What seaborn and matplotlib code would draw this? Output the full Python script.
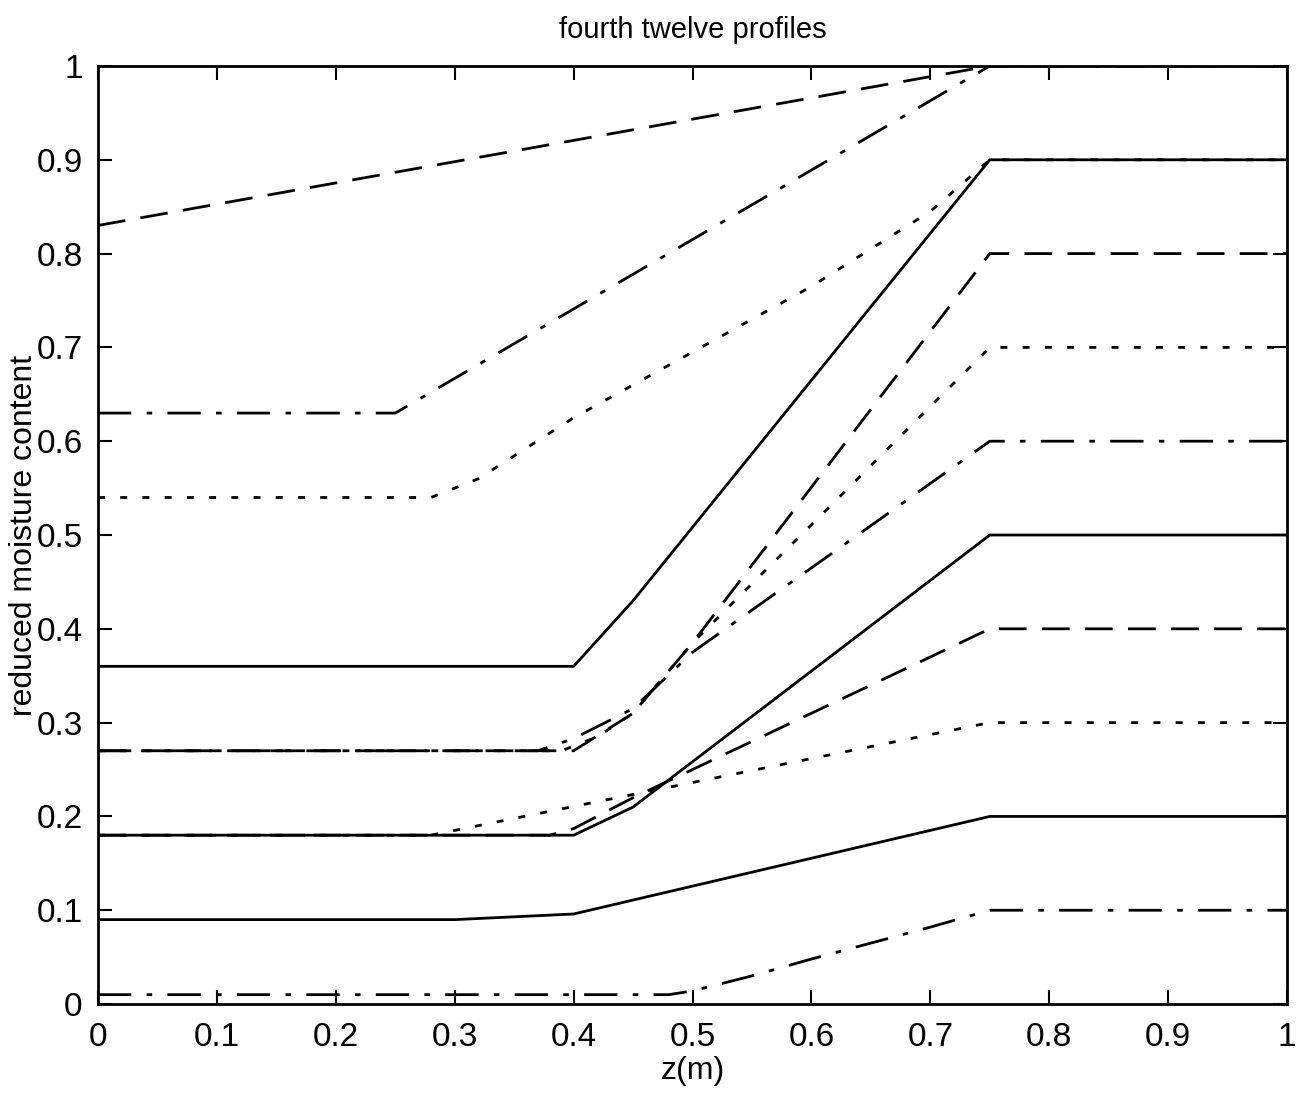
import matplotlib
matplotlib.use("Agg")
import matplotlib.pyplot as plt
import seaborn as sns
import numpy as np

sns.set_theme(style="ticks")
plt.rcParams['font.family'] = ['Liberation Sans', 'DejaVu Sans']
plt.rcParams['text.color'] = 'black'
plt.rcParams['axes.labelcolor'] = 'black'

# profile data (z in m, reduced moisture content)
z1 = [0.0, 0.75, 1.0];                         m1 = [0.83, 1.0, 1.0]
z2 = [0.0, 0.25, 0.75, 1.0];                   m2 = [0.63, 0.63, 1.0, 1.0]
z3 = [0.0, 0.28, 0.32, 0.4, 0.5, 0.6, 0.7, 0.75, 1.0]
m3 = [0.54, 0.54, 0.56, 0.625, 0.695, 0.765, 0.845, 0.9, 0.9]
z4 = [0.0, 0.4, 0.45, 0.75, 1.0];              m4 = [0.36, 0.36, 0.43, 0.9, 0.9]
z5 = [0.0, 0.4, 0.45, 0.5, 0.75, 1.0];         m5 = [0.27, 0.27, 0.31, 0.385, 0.8, 0.8]
z6 = [0.0, 0.39, 0.42, 0.45, 0.5, 0.75, 1.0];  m6 = [0.27, 0.27, 0.285, 0.31, 0.385, 0.7, 0.7]
z7 = [0.0, 0.37, 0.4, 0.45, 0.5, 0.75, 1.0];   m7 = [0.27, 0.27, 0.283, 0.315, 0.375, 0.6, 0.6]
z8 = [0.0, 0.4, 0.45, 0.75, 1.0];              m8 = [0.18, 0.18, 0.21, 0.5, 0.5]
z9 = [0.0, 0.38, 0.4, 0.45, 0.75, 1.0];        m9 = [0.18, 0.18, 0.187, 0.22, 0.4, 0.4]
z10 = [0.0, 0.28, 0.75, 1.0];                  m10 = [0.18, 0.18, 0.3, 0.3]
z11 = [0.0, 0.3, 0.4, 0.75, 1.0];              m11 = [0.09, 0.09, 0.096, 0.2, 0.2]
z12 = [0.0, 0.48, 0.5, 0.55, 0.6, 0.65, 0.7, 0.75, 1.0]
m12 = [0.01, 0.01, 0.014, 0.03, 0.048, 0.065, 0.082, 0.1, 0.1]

dashed = (0, (10, 5.5))
dashdot = (0, (12, 5.5, 2, 5.5))
dotted = (0, (2.5, 5.5))
solid = '-'

profiles = [(z1, m1, dashed), (z2, m2, dashdot), (z3, m3, dotted), (z4, m4, solid),
            (z5, m5, dashed), (z6, m6, dotted), (z7, m7, dashdot), (z8, m8, solid),
            (z9, m9, dashed), (z10, m10, dotted), (z11, m11, solid), (z12, m12, dashdot)]

fig = plt.figure(figsize=(13.12, 10.96), dpi=100)
ax = fig.add_axes([0.0747, 0.0839, 0.9063, 0.8559])

for zz, mm, ls in profiles:
    sns.lineplot(x=zz, y=mm, ax=ax, color='black', linestyle=ls, linewidth=2.0,
                 estimator=None, sort=False)

ax.set_xlim(0, 1)
ax.set_ylim(0, 1)
ticks = [0, 0.1, 0.2, 0.3, 0.4, 0.5, 0.6, 0.7, 0.8, 0.9, 1]
labels = ['0', '0.1', '0.2', '0.3', '0.4', '0.5', '0.6', '0.7', '0.8', '0.9', '1']
ax.set_xticks(ticks)
ax.set_xticklabels(labels)
ax.set_yticks(ticks)
ax.set_yticklabels(labels)
ax.tick_params(direction='in', length=10, width=1.5, top=True, right=True,
               labelsize=24, colors='black')
ax.tick_params(axis='x', pad=13)
ax.tick_params(axis='y', pad=11)
for s in ax.spines.values():
    s.set_linewidth(2)
    s.set_color('black')
    s.set_visible(True)

ax.set_xlabel('z(m)', fontsize=23, labelpad=2, color='black')
ax.set_ylabel('reduced moisture content', fontsize=23, color='black')
ax.yaxis.set_label_coords(-0.05, 0.5)
ax.set_title('fourth twelve profiles', fontsize=21, pad=20, color='black')

fig.savefig('out.png', dpi=100, facecolor='white')
